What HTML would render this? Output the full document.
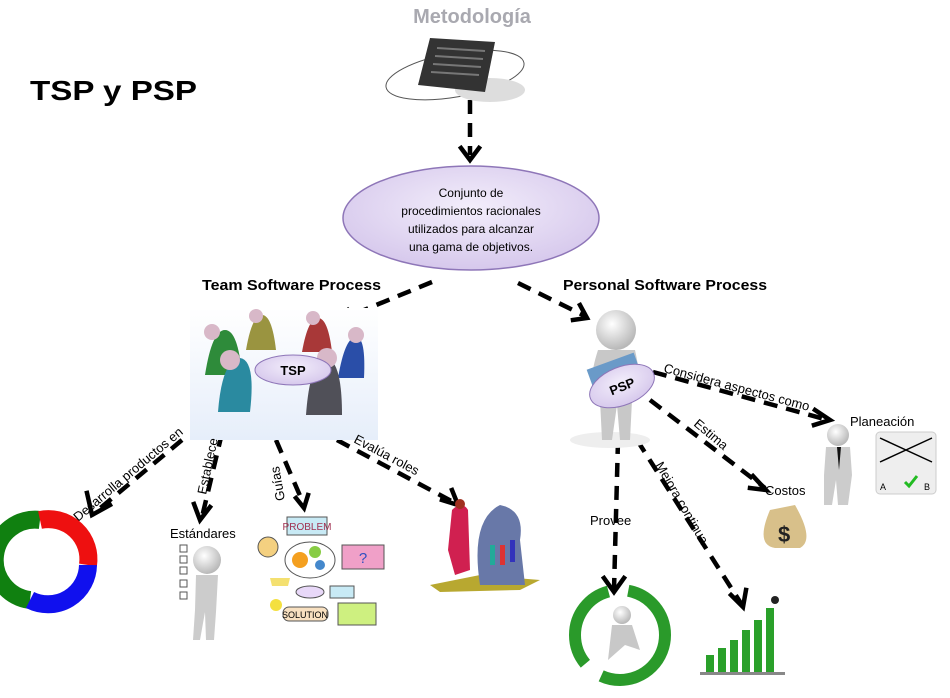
<!DOCTYPE html>
<html><head><meta charset="utf-8"><style>
html,body{margin:0;padding:0;background:#fff;width:950px;height:698px;overflow:hidden}
svg text{font-family:"Liberation Sans",sans-serif}
</style></head><body>
<svg width="950" height="698" viewBox="0 0 950 698" xmlns="http://www.w3.org/2000/svg">
<defs>
<radialGradient id="lav" cx="50%" cy="40%" r="60%"><stop offset="0" stop-color="#f3eefb"/><stop offset="1" stop-color="#d6c8ec"/></radialGradient>
<radialGradient id="wf" cx="40%" cy="35%" r="65%"><stop offset="0" stop-color="#fff"/><stop offset="1" stop-color="#b8b8b8"/></radialGradient>
<linearGradient id="tbg" x1="0" y1="0" x2="0" y2="1"><stop offset="0" stop-color="#fff"/><stop offset="1" stop-color="#e6eefa"/></linearGradient>
</defs>
<g fill="none" stroke="#000" stroke-width="4.5" stroke-dasharray="14 9">
<path d="M470 100 L470 155"/>
<path d="M432 282 L335 322"/>
<path d="M518 283 L585 316"/>
<path d="M182 440 L92 515"/>
<path d="M222 433 L202 517"/>
<path d="M276 440 L304 505"/>
<path d="M337 440 L455 503"/>
<path d="M653 372 L828 420"/>
<path d="M650 400 L765 488"/>
<path d="M618 440 L614 590"/>
<path d="M637 440 L742 605"/>
</g>
<g fill="none" stroke="#000" stroke-width="4.5" stroke-linecap="square">
<path d="M461 148 L470 160 L479 148"/>
<path d="M348 310 L334 323 L352 327"/>
<path d="M573 320 L587 318 L580 305"/>
<path d="M87 493 L92 515 L110 505"/>
<path d="M194 504 L200 520 L210 507"/>
<path d="M296 498 L304 508 L308 495"/>
<path d="M442 500 L458 505 L452 490"/>
<path d="M815 410 L830 420 L814 425"/>
<path d="M753 476 L766 490 L750 488"/>
<path d="M604 578 L614 592 L624 578"/>
<path d="M731 595 L743 607 L746 590"/>
</g>
<text x="472" y="23" font-size="20" font-weight="bold" fill="#a9a9b0" text-anchor="middle">Metodología</text>
<ellipse cx="455" cy="75" rx="70" ry="22" fill="none" stroke="#555" stroke-width="1" transform="rotate(-10 455 75)"/>
<ellipse cx="490" cy="90" rx="35" ry="12" fill="#ddd"/>
<polygon points="430,38 495,42 485,92 418,85" fill="#333"/>
<g stroke="#777" stroke-width="2"><path d="M437 48 L485 51"/><path d="M435 56 L483 59"/><path d="M433 64 L481 67"/><path d="M431 72 L479 75"/></g>
<text x="30" y="100" font-size="28" font-weight="bold" fill="#000" textLength="167" lengthAdjust="spacingAndGlyphs">TSP y PSP</text>
<ellipse cx="471" cy="218" rx="128" ry="52" fill="url(#lav)" stroke="#8e76b8" stroke-width="1.5"/>
<g font-size="12" text-anchor="middle" fill="#000">
<text x="471" y="197">Conjunto de</text><text x="471" y="215">procedimientos racionales</text>
<text x="471" y="233">utilizados para alcanzar</text><text x="471" y="251">una gama de objetivos.</text></g>
<text x="202" y="290" font-size="15" font-weight="bold" textLength="179" lengthAdjust="spacingAndGlyphs">Team Software Process</text>
<text x="563" y="290" font-size="15" font-weight="bold" textLength="204" lengthAdjust="spacingAndGlyphs">Personal Software Process</text>
<rect x="190" y="308" width="188" height="132" fill="url(#tbg)"/>
<g>
<path d="M205 375 Q212 330 225 330 Q238 330 242 375Z" fill="#2e8b3a"/><circle cx="212" cy="332" r="8" fill="#d8b8c8"/>
<path d="M246 350 Q252 315 262 315 Q272 315 276 350Z" fill="#9a9440"/><circle cx="256" cy="316" r="7" fill="#d8b8c8"/>
<path d="M302 352 Q308 318 318 318 Q328 318 332 352Z" fill="#a83838"/><circle cx="313" cy="318" r="7" fill="#d8b8c8"/>
<path d="M338 378 Q345 337 356 337 Q366 337 364 378Z" fill="#2a4ea8"/><circle cx="356" cy="335" r="8" fill="#d8b8c8"/>
<path d="M218 412 Q222 360 240 358 Q256 360 250 412Z" fill="#2a8aa0"/><circle cx="230" cy="360" r="10" fill="#d8b8c8"/>
<path d="M306 415 Q310 360 326 358 Q342 360 342 415Z" fill="#505058"/><circle cx="327" cy="358" r="10" fill="#d8b8c8"/>
</g>
<ellipse cx="293" cy="370" rx="38" ry="15" fill="url(#lav)" stroke="#8e76b8"/>
<text x="293" y="375" font-size="13" font-weight="bold" text-anchor="middle">TSP</text>
<g font-size="13" fill="#000">
<text transform="translate(78 522) rotate(-40)">Desarrolla productos en</text>
<text transform="translate(206 495) rotate(-78)">Establece</text>
<text transform="translate(285 500) rotate(-100)">Guías</text>
<text transform="translate(353 442) rotate(28)">Evalúa roles</text>
<text transform="translate(663 372) rotate(15)">Considera aspectos como</text>
<text transform="translate(693 425) rotate(40)">Estima</text>
<text transform="translate(655 465) rotate(60)">Mejora continua</text>
<text x="590" y="525">Provee</text>
<text x="850" y="426">Planeación</text>
<text x="765" y="495">Costos</text>
<text x="170" y="538">Estándares</text>
</g>
<g fill="none" stroke-width="18">
<path d="M30 600 A40 40 0 0 1 40 520" stroke="#108010"/>
<path d="M40 520 A40 40 0 0 1 88 565" stroke="#ee1010"/>
<path d="M88 565 A40 40 0 0 1 30 600" stroke="#1010ee"/>
</g>
<circle cx="207" cy="560" r="14" fill="url(#wf)"/>
<path d="M196 575 L218 575 L216 612 L214 640 L206 640 L205 612 L200 640 L193 640 L195 610Z" fill="#ccc"/>
<g fill="none" stroke="#555"><rect x="180" y="545" width="7" height="7"/><rect x="180" y="556" width="7" height="7"/><rect x="180" y="567" width="7" height="7"/><rect x="180" y="580" width="7" height="7"/><rect x="180" y="592" width="7" height="7"/></g>
<rect x="287" y="517" width="40" height="18" fill="#c8eaf5" stroke="#555"/><text x="307" y="530" font-size="10" text-anchor="middle" fill="#a03050">PROBLEM</text>
<ellipse cx="310" cy="560" rx="25" ry="18" fill="#fff" stroke="#555"/>
<circle cx="300" cy="560" r="8" fill="#f4a020"/><circle cx="315" cy="552" r="6" fill="#8c4"/><circle cx="320" cy="565" r="5" fill="#48c"/>
<rect x="342" y="545" width="42" height="24" fill="#f0a0c8" stroke="#555"/><text x="363" y="563" font-size="15" fill="#3050c0" text-anchor="middle">?</text>
<circle cx="268" cy="547" r="10" fill="#f4d080" stroke="#555"/>
<ellipse cx="310" cy="592" rx="14" ry="6" fill="#e8d8f8" stroke="#555"/>
<rect x="330" y="586" width="24" height="12" fill="#c8eaf5" stroke="#555"/>
<rect x="283" y="607" width="45" height="14" rx="6" fill="#f8e0c0" stroke="#555"/><text x="305" y="618" font-size="9" text-anchor="middle">SOLUTION</text>
<rect x="338" y="603" width="38" height="22" fill="#cef080" stroke="#555"/>
<path d="M270 578 L290 578 L288 586 L272 586Z" fill="#f4e070"/>
<circle cx="276" cy="605" r="6" fill="#f4e040"/>
<polygon points="430,585 480,575 540,580 520,590 440,592" fill="#b8a830"/>
<path d="M452 510 Q462 500 468 510 L470 570 L455 575 L448 550Z" fill="#d02050"/><circle cx="460" cy="504" r="5" fill="#a03020"/>
<path d="M480 585 Q470 520 500 505 Q525 510 520 540 L525 585Z" fill="#6878a8"/>
<g fill="#2a9"><rect x="490" y="545" width="5" height="20"/></g><rect x="500" y="545" width="5" height="20" fill="#d33"/><rect x="510" y="540" width="5" height="22" fill="#33b"/>
<ellipse cx="610" cy="440" rx="40" ry="8" fill="#eee"/>
<circle cx="616" cy="330" r="20" fill="url(#wf)"/>
<path d="M598 350 L635 350 Q645 395 632 400 L630 440 L620 440 L617 405 L612 440 L602 440 L600 400 Q585 390 598 350Z" fill="#c8c8c8"/>
<rect x="592" y="360" width="50" height="40" fill="#6a9ac8" transform="rotate(-20 617 380)"/>
<ellipse cx="622" cy="386" rx="34" ry="19" fill="url(#lav)" stroke="#8e76b8" transform="rotate(-22 622 386)"/>
<text x="622" y="391" font-size="13" font-weight="bold" text-anchor="middle" transform="rotate(-22 622 386)">PSP</text>
<circle cx="838" cy="435" r="11" fill="url(#wf)"/>
<path d="M826 447 L850 447 L852 475 L848 505 L838 505 L836 480 L832 505 L824 505 L824 475Z" fill="#ccc"/>
<path d="M837 447 L839 470 L841 447Z" fill="#111"/>
<rect x="876" y="432" width="60" height="62" rx="4" fill="#eee" stroke="#ccc"/>
<path d="M880 438 L932 462 M932 438 L880 462" stroke="#000" stroke-width="1.5"/>
<path d="M905 482 l4 4 l8 -10" stroke="#2b2" stroke-width="3" fill="none"/>
<text x="880" y="490" font-size="9">A</text><text x="924" y="490" font-size="9">B</text>
<path d="M770 510 Q755 545 775 548 L800 548 Q815 540 795 505Z" fill="#d8c08a"/>
<text x="778" y="542" font-size="22" font-weight="bold" fill="#222">$</text>
<circle cx="620" cy="635" r="45" fill="none" stroke="#2a9a2a" stroke-width="12" stroke-dasharray="90 20"/>
<circle cx="622" cy="615" r="9" fill="url(#wf)"/>
<path d="M612 625 L632 625 L640 650 L625 645 L608 660Z" fill="#c8c8c8"/>
<g fill="#2aa02a"><rect x="706" y="655" width="8" height="18"/><rect x="718" y="648" width="8" height="25"/><rect x="730" y="640" width="8" height="33"/><rect x="742" y="630" width="8" height="43"/><rect x="754" y="620" width="8" height="53"/><rect x="766" y="608" width="8" height="65"/></g>
<rect x="700" y="672" width="85" height="3" fill="#888"/>
<circle cx="775" cy="600" r="4" fill="#222"/>
</svg>
</body></html>
